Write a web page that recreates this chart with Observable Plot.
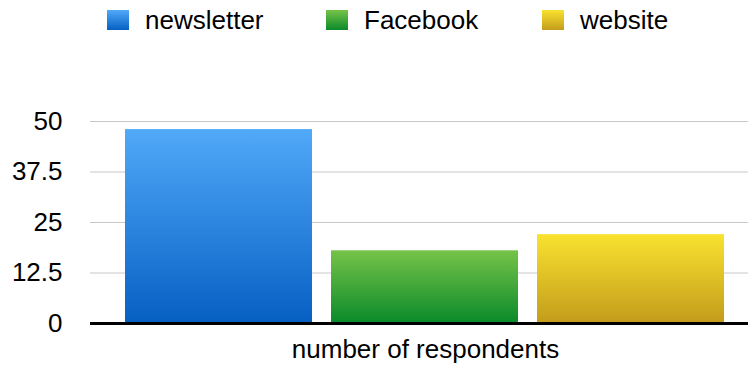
<!DOCTYPE html>
<html>
<head>
<meta charset="utf-8">
<script src="https://cdn.jsdelivr.net/npm/d3@7"></script>
<script src="https://cdn.jsdelivr.net/npm/@observablehq/plot@0.6"></script>
<style>
  html, body { margin: 0; padding: 0; background: #fff; }
  body { width: 748px; height: 366px; overflow: hidden; font-family: "Liberation Sans", Helvetica, Arial, sans-serif; }
  #legend { position: relative; height: 40px; }
  .item { position: absolute; top: 0; height: 40px; display: flex; align-items: center; font-size: 26px; color: #000; }
  .sw { width: 22px; height: 20px; margin-right: 16px; margin-top: -1px; }
  #chart svg { display: block; }
</style>
</head>
<body>
<div id="legend"></div>
<div id="chart"></div>
<script>
const categories = ["newsletter", "Facebook", "website"];
const values = [48, 18, 22];
const yTicks = [0, 12.5, 25, 37.5, 50];
const xLabel = "number of respondents";
const topColors = ["#52a9f9", "#76c348", "#f9e22f"];
const bottomColors = ["#0660c3", "#0a8a2a", "#c39c1b"];
const legendLeft = [107, 326, 542];

const data = categories.map((name, i) => ({name, value: values[i], i}));

// legend
const legend = document.getElementById("legend");
categories.forEach((c, i) => {
  const it = document.createElement("div");
  it.className = "item";
  it.style.left = legendLeft[i] + "px";
  const sw = document.createElement("div");
  sw.className = "sw";
  sw.style.background = `linear-gradient(${topColors[i]}, ${bottomColors[i]})`;
  const tx = document.createElement("span");
  tx.textContent = c;
  it.appendChild(sw); it.appendChild(tx);
  legend.appendChild(it);
});

const chart = Plot.plot({
  width: 748,
  height: 326,
  marginLeft: 90,
  marginRight: 0,
  marginTop: 81,
  marginBottom: 43,
  style: {fontFamily: '"Liberation Sans", Helvetica, Arial, sans-serif', fontSize: "26px", color: "#000", background: "#fff"},
  x: {type: "band", domain: categories, paddingInner: 0.09, paddingOuter: 0.142, align: 0.6, axis: null},
  y: {domain: [0, 50], ticks: yTicks},
  marks: [
    Plot.gridY(yTicks, {stroke: "#c8c8c8", strokeOpacity: 1, strokeWidth: 1}),
    Plot.axisY(yTicks, {tickSize: 0, tickPadding: 28, label: null, fontSize: 26, tickFormat: d => String(d)}),
    Plot.barY(data, {x: "name", y: "value", fill: d => `url(#grad-${d.i})`}),
    Plot.ruleY([0], {stroke: "#000", strokeWidth: 3}),
    Plot.text([xLabel], {frameAnchor: "bottom", dy: 34, dx: 6, text: d => d, fontSize: 26, fill: "#000"})
  ]
});

const svg = d3.select(chart);
const defs = svg.insert("defs", ":first-child");
categories.forEach((c, i) => {
  const g = defs.append("linearGradient").attr("id", `grad-${i}`).attr("x1", 0).attr("y1", 0).attr("x2", 0).attr("y2", 1);
  g.append("stop").attr("offset", "0%").attr("stop-color", topColors[i]);
  g.append("stop").attr("offset", "100%").attr("stop-color", bottomColors[i]);
});
document.getElementById("chart").appendChild(chart);
</script>
</body>
</html>
